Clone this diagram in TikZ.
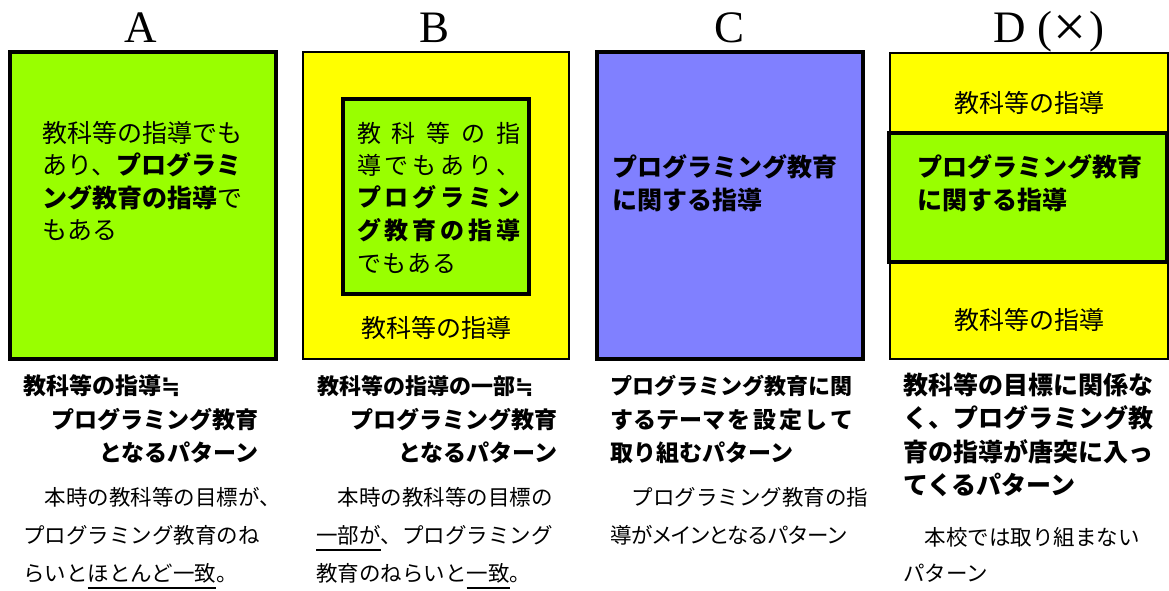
\documentclass[tikz,border=0pt]{standalone}
\usepackage{fontspec}
\setmainfont{Noto Sans CJK JP}
\newfontfamily\tms{Liberation Serif}
\newfontfamily\dvs{DejaVu Sans}
\newfontfamily\jpp[RawFeature=+palt]{Noto Sans CJK JP}
\definecolor{grn}{HTML}{99FF00}
\definecolor{ylw}{HTML}{FFFF00}
\definecolor{blu}{HTML}{8080FF}
\newcommand\ulx[1]{\setbox0\hbox{#1}\rlap{\rule[-7.5pt]{\wd0}{1.2pt}}\box0}
\newcommand\approxeq{{\dvs\bfseries ≒}}
\tikzset{
  thickbox/.style={draw=black, line width=4pt},
  thinbox/.style={draw=black, line width=2pt},
  txt/.style={inner sep=0pt, anchor=base west, font=\fontsize{25}{30}\selectfont},
  txtb/.style={inner sep=0pt, anchor=base west, font=\fontsize{24}{30}\selectfont},
  ttl/.style={inner sep=0pt, anchor=base, font=\tms\fontsize{45}{50}\selectfont},
  lab/.style={inner sep=0pt, anchor=base west, font=\bfseries\fontsize{23}{28}\selectfont},
  labd/.style={inner sep=0pt, anchor=base west, font=\bfseries\fontsize{25}{30}\selectfont},
  desc/.style={inner sep=0pt, anchor=base west, font=\fontsize{21.5}{26}\selectfont},
}
\begin{document}
\begin{tikzpicture}[x=1pt,y=-1pt]
\useasboundingbox (0,0) rectangle (1169,590);
% boxes
\path[thickbox, fill=grn] (10,51.5) rectangle (276,358.5);
\path[thinbox, fill=ylw] (303.3,52) rectangle (569,358.5);
\path[thickbox, fill=grn] (342.8,98.8) rectangle (528.7,294.3);
\path[thickbox, fill=blu] (596.7,51.7) rectangle (863,358.5);
\path[thinbox, fill=ylw] (889.5,52.5) rectangle (1168,359);
\path[thickbox, fill=grn] (889.3,133) rectangle (1167,262);
% titles
\node[ttl] (tA) at (141,42) {A};
\node[ttl] (tB) at (435,42) {B};
\node[ttl] (tC) at (729,42) {C};
\node[ttl, anchor=base west] (tD) at (993,42) {D\hspace{12pt}(\hspace{1pt}\raisebox{-4pt}{\scalebox{1.3}{×}}\hspace{3pt})};
% box A text
\node[txt] (a1) at (42,142.5) {教科等の指導でも};
\node[txt] (a2) at (42,174.5) {あり、\textbf{プログラミ}};
\node[txt] (a3) at (42,207.5) {\textbf{ング教育の指導}で};
\node[txt] (a4) at (42,239.5) {もある};
% box B text
\node[txtb] (b1) at (357,142) {\makebox[163pt][s]{教\hfill 科\hfill 等\hfill の\hfill 指}};
\node[txtb] (b2) at (357,174) {\makebox[163pt][s]{導\hfill で\hfill も\hfill あ\hfill り\hfill 、}};
\node[txtb] (b3) at (357,206) {\bfseries\makebox[163pt][s]{プ\hfill ロ\hfill グ\hfill ラ\hfill ミ\hfill ン}};
\node[txtb] (b4) at (357,239) {\bfseries\makebox[163pt][s]{グ\hfill 教\hfill 育\hfill の\hfill 指\hfill 導}};
\node[txtb] (b5) at (357,272) {で\hspace{1pt}も\hspace{1pt}あ\hspace{1pt}る};
\node[txt, anchor=base] (b6) at (436,337.5) {教科等の指導};
% box C text
\node[txt] (c1) at (612,176.5) {\bfseries プログラミング教育};
\node[txt] (c2) at (612,209.5) {\bfseries に関する指導};
% box D text
\node[txt, anchor=base] (d1) at (1029,112.5) {教科等の指導};
\node[txt] (d2) at (917,176.5) {\bfseries プログラミング教育};
\node[txt] (d3) at (917,209.5) {\bfseries に関する指導};
\node[txt, anchor=base] (d4) at (1029,329.5) {教科等の指導};
% labels A
\node[lab] (la1) at (23,394) {教科等の指導\approxeq};
\node[lab, anchor=base east] (la2) at (259,428) {プログラミング教育};
\node[lab, anchor=base east] (la3) at (259,461) {となるパターン};
% labels B
\node[lab, font=\bfseries\fontsize{22}{28}\selectfont] (lb1) at (317,394) {教科等の指導の一部\approxeq};
\node[lab, anchor=base east] (lb2) at (558,428) {プログラミング教育};
\node[lab, anchor=base east] (lb3) at (558,461) {となるパターン};
% labels C
\node[lab, font=\bfseries\fontsize{22}{28}\selectfont] (lc1) at (610,394) {プログラミング教育に関};
\node[lab] (lc2) at (610,428) {\makebox[243pt][s]{するテーマ\hfill を\hfill 設\hfill 定\hfill し\hfill て}};
\node[lab] (lc3) at (610,461) {取り組むパターン};
% labels D
\node[labd] (ld1) at (903,394.5) {教科等の目標に関係な};
\node[labd] (ld2) at (903,427.5) {く、プログラミング教};
\node[labd] (ld3) at (903,461.5) {育の指導が唐突に入っ};
\node[labd] (ld4) at (903,494.5) {てくるパターン};
% descriptions
\node[desc] (da1) at (23,505) {　本時の教科等の目標が、};
\node[desc] (da2) at (23,543) {プログラミング教育のね};
\node[desc] (da3) at (23,581) {らいと\ulx{ほとんど一致}。};
\node[desc] (db1) at (316,505) {　本時の教科等の目標の};
\node[desc] (db2) at (316,543) {\ulx{一部が}、プログラミング};
\node[desc] (db3) at (316,581) {教育のねらいと\ulx{一致}。};
\node[desc] (dc1) at (610,505) {　プログラミング教育の指};
\node[desc, font=\jpp\fontsize{21.5}{26}\selectfont] (dc2) at (610,543) {導がメインとなるパターン};
\node[desc] (dd1) at (903,545) {　本校では取り組まない};
\node[desc] (dd2) at (903,581) {パターン};
\end{tikzpicture}
\end{document}
